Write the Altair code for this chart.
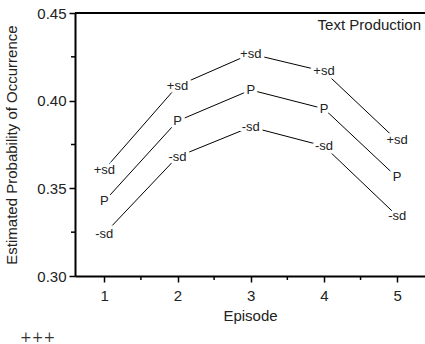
import altair as alt
import pandas as pd

# Estimated probability of occurrence by episode, with +/- one SD bands
episodes = [1, 2, 3, 4, 5]
plus_sd = [0.3607, 0.4084, 0.4267, 0.4167, 0.3773]
point = [0.3426, 0.3884, 0.4061, 0.3954, 0.3562]
minus_sd = [0.3240, 0.3680, 0.3850, 0.3741, 0.3343]
series_labels = ["+sd", "P", "-sd"]

x_major = [1, 2, 3, 4, 5]
x_minor = [1.5, 2.5, 3.5, 4.5]
y_major = [0.30, 0.35, 0.40, 0.45]
y_minor = [0.325, 0.375, 0.425]

rows = []
for label, values in zip(series_labels, [plus_sd, point, minus_sd]):
    for ep, v in zip(episodes, values):
        rows.append({"series": label, "episode": ep, "prob": v})
df = pd.DataFrame(rows)

FONT = "Liberation Sans"
W, H = 350, 263

x_scale = alt.Scale(domain=[0.6, 5.38], nice=False, zero=False)
y_scale = alt.Scale(domain=[0.30, 0.45], nice=False, zero=False)

axis_style = dict(
    grid=False,
    ticks=True,
    domainWidth=2,
    domainColor="black",
    tickColor="black",
    tickWidth=1.5,
    tickSize=6,
    labelFontSize=15,
    titleFontSize=15,
    titleFontWeight="normal",
    labelColor="#222",
    titleColor="#222",
    labelFont=FONT,
    titleFont=FONT,
)

x = alt.X(
    "episode:Q",
    scale=x_scale,
    axis=alt.Axis(title="Episode", values=x_major, format="d",
                  labelPadding=6, titlePadding=5, **axis_style),
)
y = alt.Y(
    "prob:Q",
    scale=y_scale,
    axis=alt.Axis(title="Estimated Probability of Occurrence", values=y_major,
                  format=".2f", labelPadding=3, titlePadding=17, **axis_style),
)

base = alt.Chart(df)

lines = base.mark_line(color="black", strokeWidth=1).encode(x=x, y=y, detail="series:N")

halo = base.mark_text(
    font=FONT, fontSize=13, color="white", stroke="white", strokeWidth=7,
    strokeJoin="round", baseline="middle", align="center",
).encode(x=x, y=y, text="series:N")

labels = base.mark_text(
    font=FONT, fontSize=13, color="#222", baseline="middle", align="center",
).encode(x=x, y=y, text="series:N")

# short minor ticks between the labelled ones
x_minor_ticks = alt.Chart(pd.DataFrame({"m": x_minor})).mark_rule(
    color="black", strokeWidth=1.5
).encode(x=alt.X("m:Q", scale=x_scale), y=alt.value(H), y2=alt.value(H + 4))

y_minor_ticks = alt.Chart(pd.DataFrame({"m": y_minor})).mark_rule(
    color="black", strokeWidth=1.5
).encode(y=alt.Y("m:Q", scale=y_scale), x=alt.value(-4), x2=alt.value(0))

top_line = alt.Chart(pd.DataFrame({"v": [0.45]})).mark_rule(
    color="black", strokeWidth=2
).encode(y=alt.Y("v:Q", scale=y_scale))

panel_title = alt.Chart(pd.DataFrame({"t": ["Text Production"]})).mark_text(
    font=FONT, fontSize=15, color="#222", align="right", baseline="middle"
).encode(text="t:N", x=alt.value(W - 4), y=alt.value(12))

footer = alt.Chart(pd.DataFrame({"t": ["+++"]})).mark_text(
    font="DejaVu Serif", fontSize=14, color="#333", align="left", baseline="middle"
).encode(text="t:N", x=alt.value(-55), y=alt.value(H + 62))

chart = (
    alt.layer(lines, halo, labels, x_minor_ticks, y_minor_ticks, top_line,
              panel_title, footer)
    .properties(
        width=W,
        height=H,
        padding={"left": 75, "top": 13, "right": 0, "bottom": 68},
        autosize=alt.AutoSizeParams(type="none"),
        background="white",
    )
    .configure_view(stroke=None)
)

chart.save("out.html", embed_options={"renderer": "svg", "actions": False})
